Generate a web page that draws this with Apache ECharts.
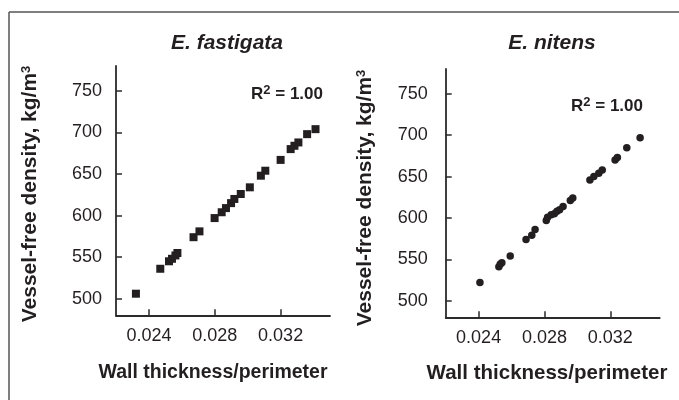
<!DOCTYPE html>
<html><head><meta charset="utf-8">
<script src="https://cdn.jsdelivr.net/npm/echarts@6/dist/echarts.min.js"></script>
<style>html,body{margin:0;padding:0;background:#fff}#c{width:679px;height:400px}</style>
</head><body><div id="c"></div>
<script>
// E. fastigata
var fastigataX = [0.02321,0.02469,0.02522,0.02540,0.02561,0.02573,0.02671,0.02707,0.02799,0.02842,0.02868,0.02899,0.02919,0.02958,0.03013,0.03080,0.03107,0.03200,0.03261,0.03284,0.03308,0.03361,0.03412];
var fastigataY = [506,536,545,548,552,555,574,581,597,604,609,615,620,626,634,648,654,667,680,684,688,698,704];
// E. nitens
var nitensX = [0.02408,0.02523,0.02531,0.02541,0.02592,0.02688,0.02723,0.02743,0.02811,0.02819,0.02841,0.02860,0.02876,0.02892,0.02913,0.02957,0.02972,0.03076,0.03100,0.03130,0.03151,0.03229,0.03243,0.03300,0.03381];
var nitensY = [522,541,544,546,554,574,579,586,597,601,604,605,608,610,614,621,624,646,650,654,658,670,673,685,697];
var xTicks = [0.024,0.028,0.032];
var yTicks = [500,550,600,650,700,750];
var panelTitles = ['E. fastigata','E. nitens'];
var xTitle = 'Wall thickness/perimeter';
var yTitle = 'Vessel-free density, kg/m';
var r2Text = '1.00';

var ink = '#231f20';
var FONT = 'Liberation Sans, Arial, sans-serif';
function pairs(xs, ys){ return xs.map(function(v,i){return [v, ys[i]];}); }

function xAxisCfg(gi){
  return {
    gridIndex: gi, type:'value', min:0.022, max:0.035,
    axisLine:{show:true, lineStyle:{color:'#2b2b2b', width:1.8}},
    axisTick:{show:true, inside:true, length:6, customValues:xTicks, lineStyle:{color:'#2b2b2b', width:1.5}},
    axisLabel:{show:true, customValues:xTicks, margin:12, color:ink, fontFamily:FONT, fontSize:18,
      formatter:function(v){return v.toFixed(3);} },
    splitLine:{show:false}
  };
}
function yAxisCfg(gi, margin){
  return {
    gridIndex: gi, type:'value', min:480, max:780,
    axisLine:{show:true, lineStyle:{color:'#2b2b2b', width:1.8}},
    axisTick:{show:true, inside:true, length:6, customValues:yTicks, lineStyle:{color:'#2b2b2b', width:1.5}},
    axisLabel:{show:true, customValues:yTicks, margin:margin, color:ink, fontFamily:FONT, fontSize:18},
    splitLine:{show:false}
  };
}
function txt(x, y, text, size, rot, rich, style){
  var s = {text:text, x:0, y:0, align:'center', verticalAlign:'middle', fill:ink,
    font: (style||'bold') + ' ' + size + 'px ' + FONT};
  if (rich) s.rich = rich;
  return {type:'text', x:x, y:y, rotation:rot||0, style:s, silent:true};
}
var supY = {sup:{fontSize:13, fontWeight:'bold', fontFamily:FONT, verticalAlign:'top', fill:ink, padding:[0,0,8,0]}};

var chart = echarts.init(document.getElementById('c'), null, {renderer:'canvas'});
chart.setOption({
  animation:false,
  backgroundColor:'#fff',
  grid:[
    {left:116, top:66, width:214, height:249.3},
    {left:445.7, top:69, width:214, height:248.3}
  ],
  xAxis:[xAxisCfg(0), xAxisCfg(1)],
  yAxis:[yAxisCfg(0,14), yAxisCfg(1,18)],
  series:[
    {type:'scatter', xAxisIndex:0, yAxisIndex:0, symbol:'rect', symbolSize:8, itemStyle:{color:ink, opacity:1}, data:pairs(fastigataX, fastigataY)},
    {type:'scatter', xAxisIndex:1, yAxisIndex:1, symbol:'circle', symbolSize:7.5, itemStyle:{color:ink, opacity:1}, data:pairs(nitensX, nitensY)}
  ],
  graphic:[
    {type:'line', shape:{x1:9, y1:12, x2:679, y2:12}, style:{stroke:'#555', lineWidth:1.5}, silent:true},
    {type:'line', shape:{x1:9, y1:12, x2:9, y2:400}, style:{stroke:'#555', lineWidth:1.5}, silent:true},
    txt(227, 43, panelTitles[0], 21, 0, null, 'italic bold'),
    txt(552, 43, panelTitles[1], 21, 0, null, 'italic bold'),
    txt(213, 373, xTitle, 19.5),
    txt(547, 373, xTitle, 20.5),
    txt(30, 194, yTitle + '{sup|3}', 21, Math.PI/2, supY),
    txt(365, 198, yTitle + '{sup|3}', 21, Math.PI/2, supY),
    txt(287, 94, 'R{sup|2} = ' + r2Text, 17, 0, supY),
    txt(607, 106, 'R{sup|2} = ' + r2Text, 17, 0, supY)
  ]
});
</script></body></html>
